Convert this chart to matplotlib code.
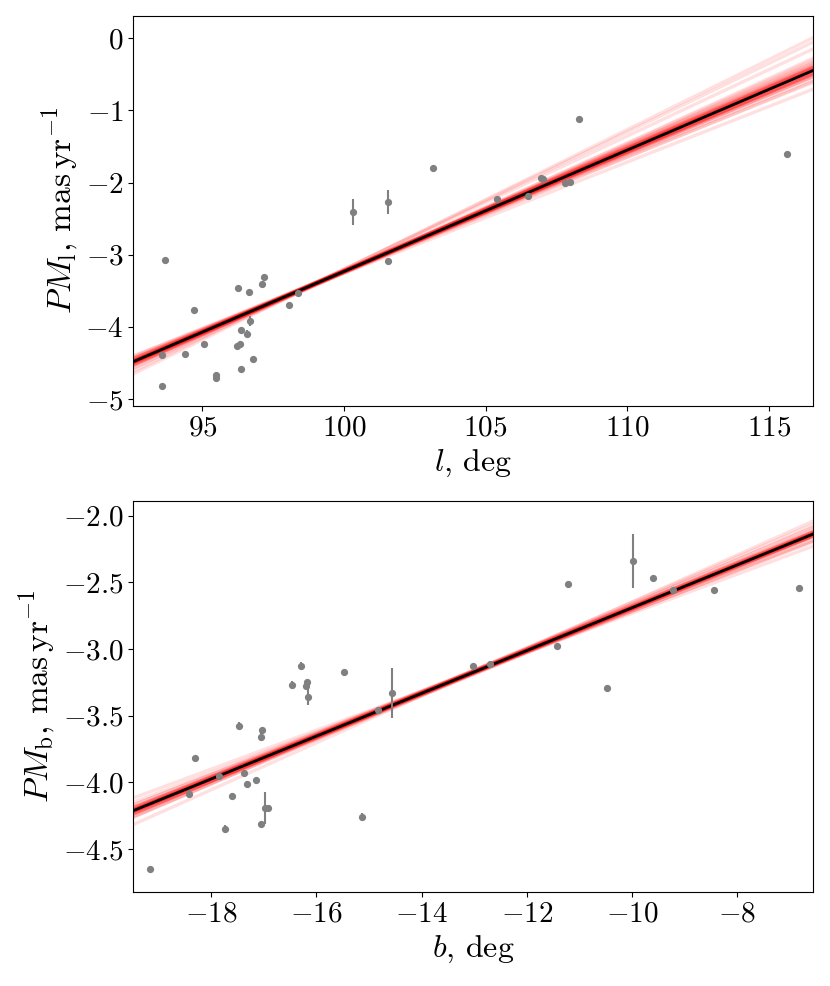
import numpy as np
import matplotlib
matplotlib.use('Agg')
import matplotlib.pyplot as plt

plt.rcParams['font.family'] = 'serif'
plt.rcParams['font.serif'] = ['cmr10']
plt.rcParams['mathtext.fontset'] = 'cm'
plt.rcParams['axes.formatter.use_mathtext'] = True

# upper panel: longitude vs PM_l
l_deg = [93.59, 93.59, 93.67, 94.38, 94.70, 95.04, 95.48, 95.49, 96.23, 96.26,
         96.32, 96.37, 96.38, 96.56, 96.65, 96.69, 96.78, 97.12, 97.18, 98.06,
         98.39, 100.33, 101.54, 101.56, 103.14, 105.40, 106.51, 106.96, 107.01,
         107.81, 107.97, 108.28, 115.63]
pm_l = [-4.82, -4.39, -3.07, -4.37, -3.77, -4.23, -4.71, -4.66, -4.26, -3.46,
        -4.24, -4.04, -4.58, -4.09, -3.52, -3.92, -4.44, -3.41, -3.31, -3.69,
        -3.53, -2.41, -2.27, -3.09, -1.80, -2.23, -2.19, -1.94, -1.95,
        -2.01, -1.99, -1.12, -1.60]
pm_l_err = [0, 0.02, 0, 0, 0, 0, 0, 0, 0, 0,
            0, 0.03, 0, 0.05, 0, 0.07, 0, 0, 0, 0,
            0, 0.18, 0.17, 0, 0, 0, 0, 0, 0,
            0, 0, 0, 0]

# best fit and posterior samples (slope, value at pivot)
l_pivot = 99.0
l_fit = (0.168, -3.398)
l_slopes = [0.168, 0.170, 0.166, 0.172, 0.164, 0.174, 0.162, 0.171, 0.165, 0.176,
            0.160, 0.169, 0.167, 0.173, 0.163, 0.179, 0.158, 0.184, 0.190, 0.194,
            0.154, 0.175, 0.161, 0.170, 0.168, 0.167, 0.169, 0.166, 0.170, 0.168,
            0.171, 0.165, 0.169, 0.167, 0.168, 0.172, 0.164, 0.168]
l_pivots = [-3.40, -3.39, -3.41, -3.42, -3.385, -3.40, -3.38, -3.415, -3.39, -3.395,
            -3.41, -3.38, -3.42, -3.40, -3.39, -3.42, -3.385, -3.38, -3.39, -3.40,
            -3.41, -3.405, -3.395, -3.385, -3.39, -3.405, -3.40, -3.395, -3.41, -3.405,
            -3.39, -3.40, -3.385, -3.41, -3.395, -3.40, -3.405, -3.39]

# lower panel: latitude vs PM_b
b_deg = [-19.17, -18.42, -18.30, -17.85, -17.73, -17.60, -17.47, -17.38, -17.32, -17.14,
         -17.05, -17.05, -17.04, -16.98, -16.92, -16.47, -16.30, -16.20, -16.17, -16.15,
         -15.47, -15.14, -14.82, -14.56, -13.03, -12.70, -11.42, -11.22, -10.48, -9.97,
         -9.59, -9.22, -8.44, -6.83]
pm_b = [-4.65, -4.09, -3.82, -3.95, -4.35, -4.10, -3.58, -3.93, -4.01, -3.98,
        -4.31, -3.66, -3.61, -4.19, -4.19, -3.27, -3.13, -3.28, -3.25, -3.36,
        -3.17, -4.26, -3.46, -3.33, -3.13, -3.11, -2.98, -2.51, -3.29, -2.34,
        -2.47, -2.56, -2.56, -2.54]
pm_b_err = [0, 0.03, 0, 0, 0.03, 0.02, 0.03, 0.02, 0.02, 0,
            0, 0.03, 0, 0.12, 0, 0.03, 0.03, 0, 0, 0.06,
            0, 0.03, 0, 0.19, 0, 0, 0, 0, 0.02, 0.20,
            0, 0, 0, 0]

b_pivot = -13.0
b_fit = (0.1604, -3.172)
b_slopes = [0.1604, 0.162, 0.159, 0.164, 0.157, 0.166, 0.155, 0.161, 0.160, 0.168,
            0.153, 0.163, 0.158, 0.170, 0.151, 0.165, 0.156, 0.176, 0.146, 0.162,
            0.160, 0.161, 0.159, 0.1605, 0.162, 0.158, 0.1615, 0.1595, 0.163, 0.157,
            0.160, 0.161]
b_pivots = [-3.172, -3.165, -3.18, -3.17, -3.175, -3.16, -3.185, -3.19, -3.155, -3.17,
            -3.175, -3.18, -3.165, -3.16, -3.17, -3.185, -3.16, -3.175, -3.17, -3.18,
            -3.168, -3.176, -3.17, -3.165, -3.178, -3.172, -3.16, -3.18, -3.174, -3.168,
            -3.182, -3.163]

fig = plt.figure(figsize=(8.3, 9.86), dpi=100)
ax1 = fig.add_axes([0.1606, 0.5885, 0.8193, 0.3955])
ax2 = fig.add_axes([0.1606, 0.0956, 0.8193, 0.3966])


def draw(ax, x, y, yerr, pivot, fit, slopes, pivots, xlim):
    xx = np.array(xlim)
    for s, v in zip(slopes, pivots):
        ax.plot(xx, v + s * (xx - pivot), color='red', alpha=0.12, lw=2.4, zorder=2)
    ax.plot(xx, fit[1] + fit[0] * (xx - pivot), color='black', lw=2, zorder=3)
    ax.errorbar(x, y, yerr=yerr, fmt='o', color='grey', ms=4.2,
                elinewidth=1.5, capsize=0, zorder=4)
    ax.set_xlim(xlim)
    ax.tick_params(labelsize=21)


draw(ax1, l_deg, pm_l, pm_l_err, l_pivot, l_fit, l_slopes, l_pivots, (92.56, 116.57))
ax1.set_ylim(-5.09, 0.31)
ax1.set_xticks([95, 100, 105, 110, 115])
ax1.set_yticks([0, -1, -2, -3, -4, -5])
ax1.set_xlabel(r'$l$, deg', fontsize=23)
ax1.set_ylabel(r'$PM_\mathrm{l}$, $\mathrm{mas\,yr^{-1}}$', fontsize=24)

draw(ax2, b_deg, pm_b, pm_b_err, b_pivot, b_fit, b_slopes, b_pivots, (-19.48, -6.55))
ax2.set_ylim(-4.819, -1.888)
ax2.set_xticks([-18, -16, -14, -12, -10, -8])
ax2.set_yticks([-2.0, -2.5, -3.0, -3.5, -4.0, -4.5])
ax2.set_xlabel(r'$b$, deg', fontsize=23)
ax2.set_ylabel(r'$PM_\mathrm{b}$, $\mathrm{mas\,yr^{-1}}$', fontsize=24)

fig.savefig('out.png', dpi=100)
